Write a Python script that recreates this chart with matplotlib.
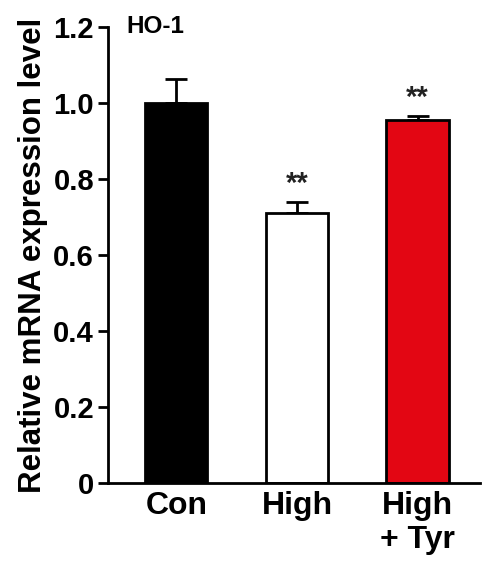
"""HO-1 relative mRNA expression bar chart."""

import matplotlib
matplotlib.use("Agg")
import matplotlib.pyplot as plt

plt.rcParams["font.family"] = ["Liberation Sans", "DejaVu Sans"]
plt.rcParams["font.weight"] = "bold"

groups = ["Con", "High", "High\n+ Tyr"]
means = [1.0, 0.71, 0.955]
errors = [0.063, 0.03, 0.011]
colors = ["#000000", "#ffffff", "#e30613"]
marks = ["", "**", "**"]
y_ticks = [0, 0.2, 0.4, 0.6, 0.8, 1.0, 1.2]
y_tick_labels = ["0", "0.2", "0.4", "0.6", "0.8", "1.0", "1.2"]

fig = plt.figure(figsize=(4.82, 5.61), dpi=100)
ax = fig.add_axes([0.224, 0.139, 0.772, 0.813])

x = list(range(len(groups)))
ax.bar(x, means, width=0.515, color=colors, edgecolor="black", linewidth=2, zorder=2)
ax.errorbar(x, means, yerr=[[0] * len(errors), errors], fmt="none", ecolor="black",
            elinewidth=2, capsize=8, capthick=2, zorder=1)

for xi, m, e, s in zip(x, means, errors, marks):
    if s:
        ax.text(xi, m + e + 0.048, s, ha="center", va="center", fontsize=21,
                fontweight="bold", color="#222222")

ax.set_xlim(-0.568, 2.519)
ax.set_ylim(0, 1.2)
ax.set_yticks(y_ticks)
ax.set_yticklabels(y_tick_labels, fontsize=21, fontweight="bold")
ax.set_xticks(x)
ax.set_xticklabels(groups, fontsize=23, fontweight="bold", linespacing=1.15, va="top")
ax.tick_params(axis="x", length=0, pad=6)
ax.tick_params(axis="y", length=7, width=2, pad=3)

for side in ("top", "right"):
    ax.spines[side].set_visible(False)
for side in ("left", "bottom"):
    ax.spines[side].set_linewidth(2)

ax.set_ylabel("Relative mRNA expression level", fontsize=22.5, fontweight="bold", labelpad=4)
ax.text(0.05, 1.0, "HO-1", transform=ax.transAxes, fontsize=17.5, fontweight="bold",
        ha="left", va="center")

fig.savefig("out.png", dpi=100)
